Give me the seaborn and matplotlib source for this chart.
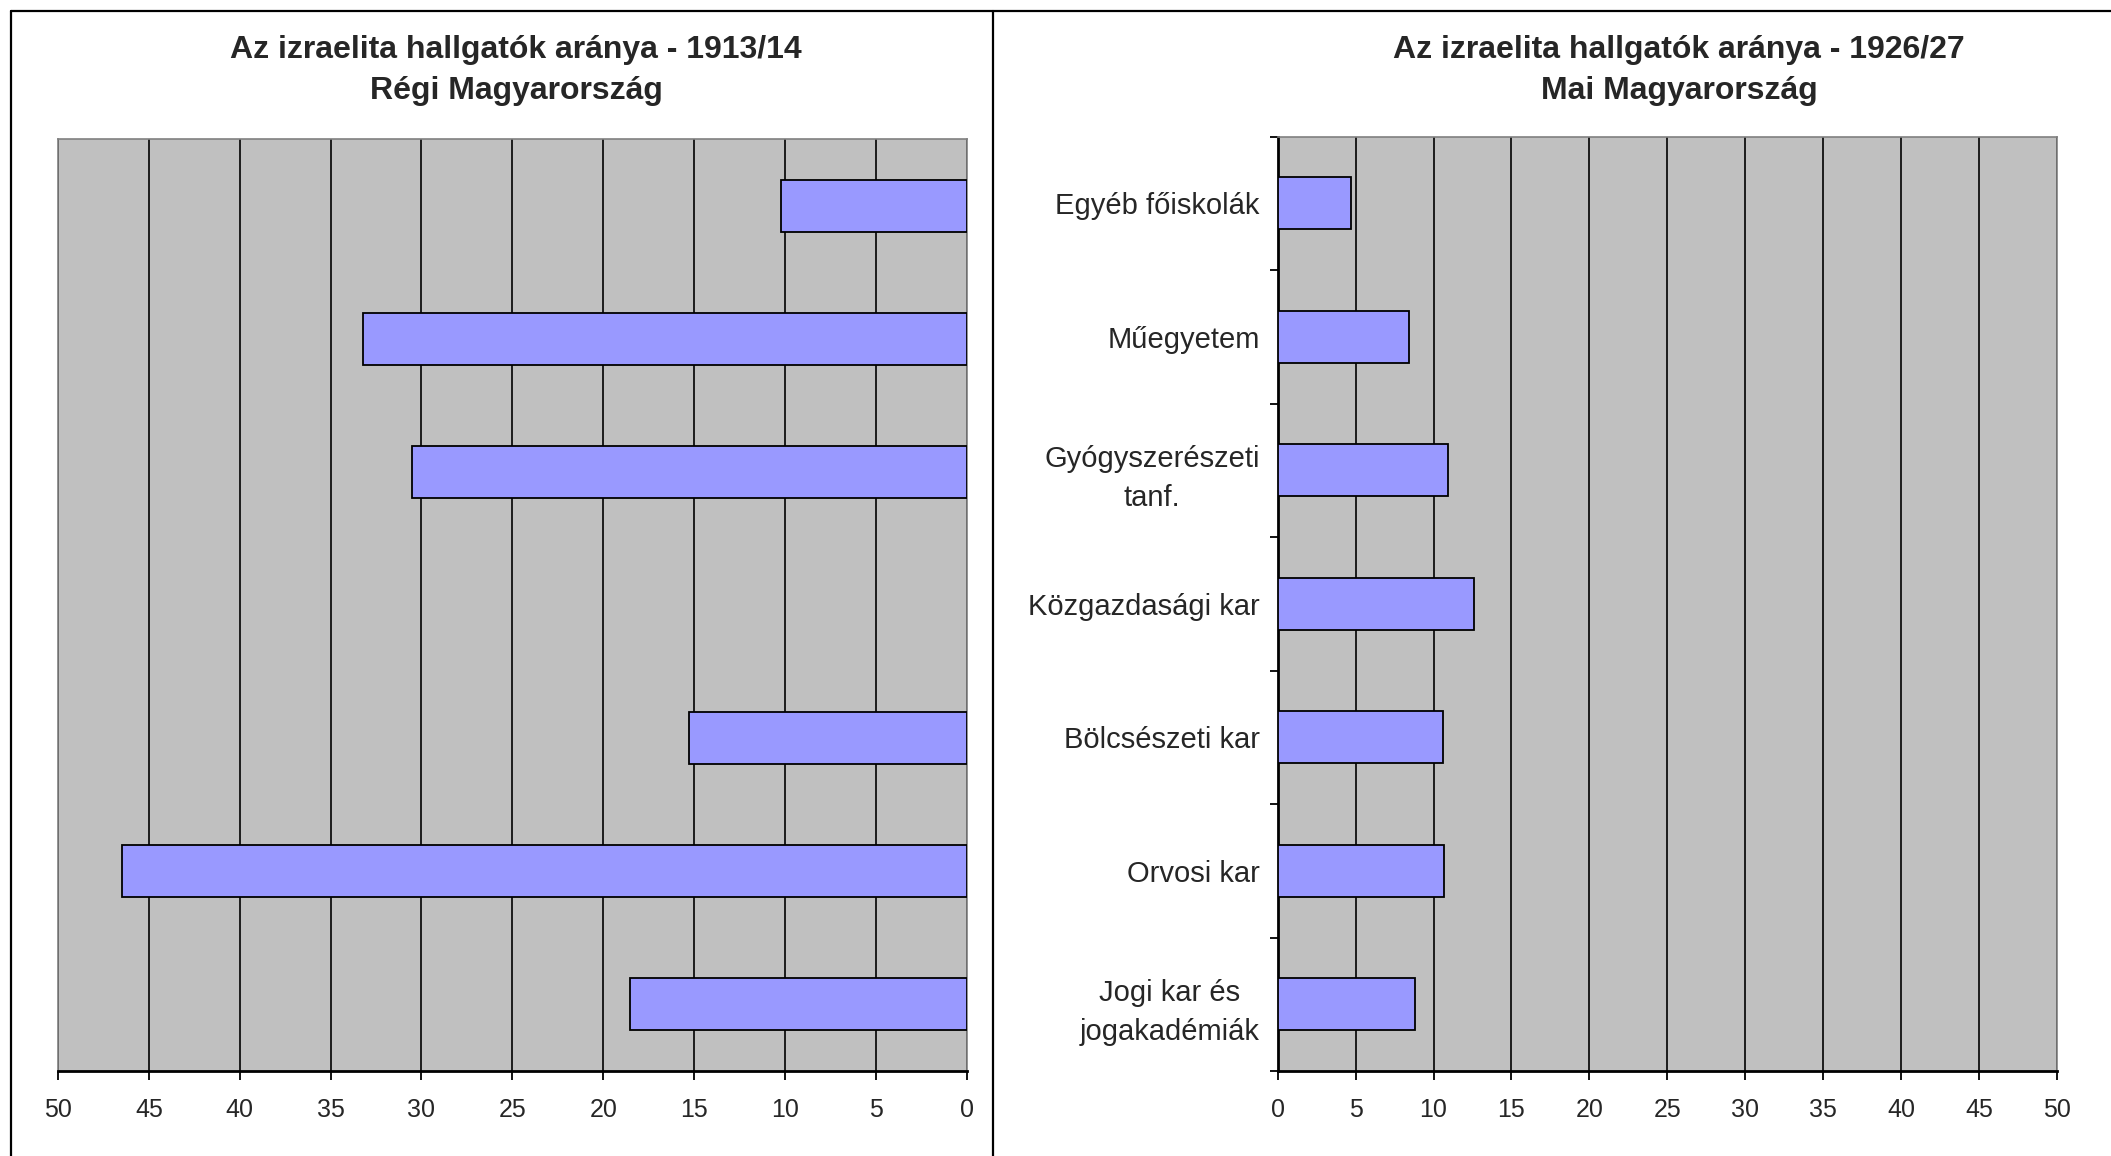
import numpy as np
import pandas as pd
import seaborn as sns
from matplotlib import pyplot as plt
from matplotlib.lines import Line2D

# karok / intézmények (felülről lefelé)
categories = ['Egyéb főiskolák', 'Műegyetem', 'Gyógyszerészeti\ntanf.', 'Közgazdasági kar',
              'Bölcsészeti kar', 'Orvosi kar', 'Jogi kar és\njogakadémiák']
# izraelita hallgatók aránya (%)
share_1913 = [10.2, 33.2, 30.5, np.nan, 15.3, 46.5, 18.5]
share_1926 = [4.7, 8.4, 10.9, 12.6, 10.6, 10.7, 8.8]
xticks = [0, 5, 10, 15, 20, 25, 30, 35, 40, 45, 50]

titles_left = ['Az izraelita hallgatók aránya - 1913/14', 'Régi Magyarország']
titles_right = ['Az izraelita hallgatók aránya - 1926/27', 'Mai Magyarország']

sns.set_style('white')
plt.rcParams['font.family'] = ['Liberation Sans', 'DejaVu Sans']

df_left = pd.DataFrame({'kar': categories, 'arany': share_1913}).dropna()
df_right = pd.DataFrame({'kar': categories, 'arany': share_1926})

W, H = 2111, 1156
fig = plt.figure(figsize=(W / 100, H / 100), dpi=100)

ax1 = fig.add_axes([58 / W, (H - 1071) / H, 908.7 / W, (1071 - 139) / H])
ax2 = fig.add_axes([1277.7 / W, (H - 1071) / H, 779.3 / W, (1071 - 136.7) / H])

bar_kw = dict(orient='h', order=categories, color='#9999FF', saturation=1,
              width=0.39, edgecolor='black', linewidth=1.3, zorder=3)
sns.barplot(data=df_left, x='arany', y='kar', ax=ax1, **bar_kw)
sns.barplot(data=df_right, x='arany', y='kar', ax=ax2, **bar_kw)

for ax in (ax1, ax2):
    ax.set_facecolor('#C0C0C0')
    ax.set_ylim(6.5, -0.5)
    ax.set_xticks(xticks)
    ax.set_xticklabels([str(t) for t in xticks])
    ax.set_xlabel('')
    ax.set_ylabel('')
    ax.set_axisbelow(True)
    for t in xticks:
        ax.axvline(t, color='black', lw=1.2, zorder=1)
    for s in ax.spines.values():
        s.set_color('#808080')
        s.set_linewidth(1.2)
    ax.spines['bottom'].set_color('black')
    ax.spines['bottom'].set_linewidth(2)
    ax.tick_params(axis='x', direction='out', length=6.5, width=1.3, color='black',
                   pad=13, labelsize=18, bottom=True)

ax1.set_xlim(50, 0)
ax1.set_yticks([])
ax1.tick_params(axis='y', left=False, right=False, labelleft=False)

ax2.set_xlim(0, 50)
ax2.spines['left'].set_color('black')
ax2.spines['left'].set_linewidth(2)
ax2.set_yticks(range(len(categories)))
ax2.set_yticklabels(categories, multialignment='center', linespacing=1.5)
ax2.set_yticks(np.arange(-0.5, len(categories)), minor=True)
ax2.tick_params(axis='y', which='major', length=0, pad=13, labelsize=21, left=True)
ax2.tick_params(axis='y', which='minor', direction='out', length=6, width=1.3,
                color='black', left=True)

title_kw = dict(ha='center', va='center', fontsize=23, fontweight='bold')
fig.text(516 / W, 1 - 50 / H, titles_left[0], **title_kw)
fig.text(516 / W, 1 - 91 / H, titles_left[1], **title_kw)
fig.text(1679 / W, 1 - 50 / H, titles_right[0], **title_kw)
fig.text(1679 / W, 1 - 91 / H, titles_right[1], **title_kw)

# keret a diagramterületek körül
frame_kw = dict(color='black', lw=1.6, transform=fig.transFigure)
fig.add_artist(Line2D([11 / W, 1], [1 - 11 / H, 1 - 11 / H], **frame_kw))
fig.add_artist(Line2D([11 / W, 11 / W], [0, 1 - 11 / H], **frame_kw))
fig.add_artist(Line2D([993 / W, 993 / W], [0, 1 - 11 / H], **frame_kw))

fig.savefig('out.png', dpi=100)
